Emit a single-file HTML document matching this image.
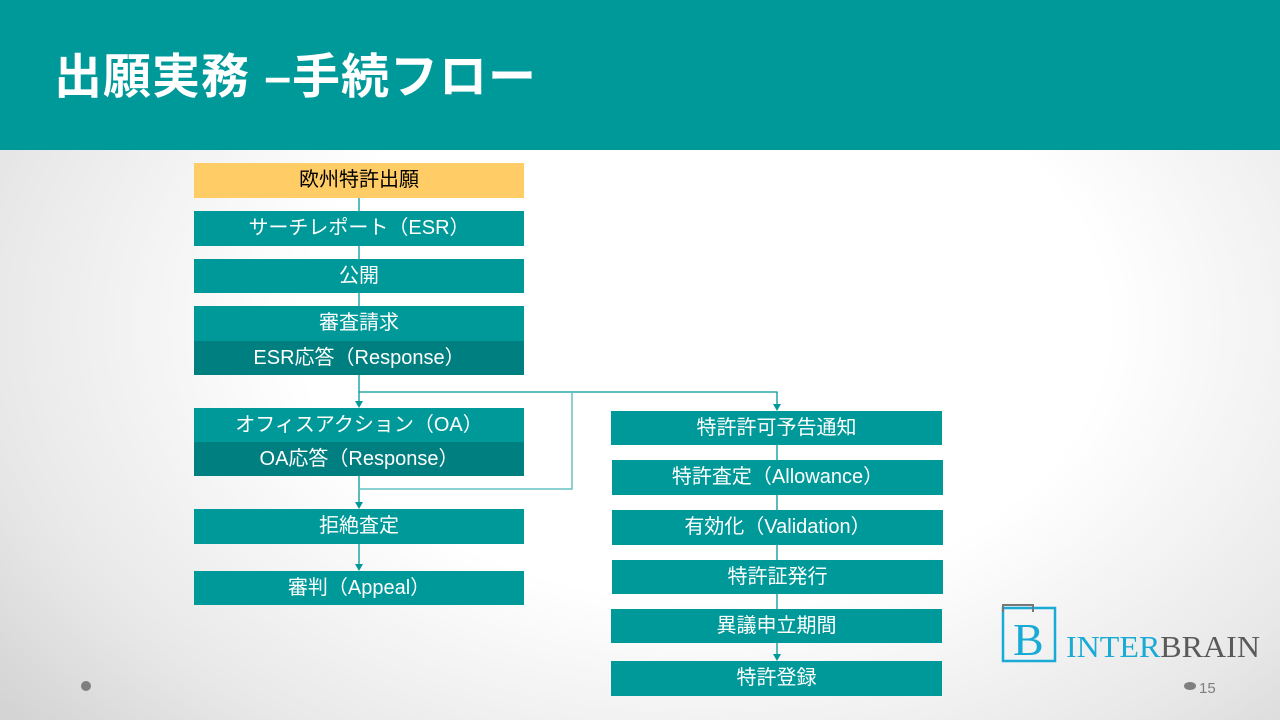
<!DOCTYPE html>
<html><head><meta charset="utf-8"><style>
body{margin:0;width:1280px;height:720px;overflow:hidden;position:relative;font-family:"Liberation Sans","Noto Sans CJK JP",sans-serif;background:radial-gradient(ellipse 70% 85% at 55% 45%,#ffffff 45%,#e8e8e8 80%,#d4d4d4 100%);}
.hd{position:absolute;left:0;top:0;width:1280px;height:150px;background:#009999;}
.t{position:absolute;left:54px;top:37px;color:#fff;font-size:48px;font-weight:bold;white-space:nowrap;letter-spacing:1px;}
.b{position:absolute;background:#009999;color:#fff;font-size:20px;display:flex;align-items:center;justify-content:center;white-space:nowrap;box-sizing:border-box;padding-bottom:6px;}
.d{background:#007F80;}
svg{position:absolute;left:0;top:0;}
</style></head><body>
<div class="hd"></div>
<div class="t">出願実務 –手続フロー</div>
<svg width="1280" height="720">
<g stroke="#009999" stroke-width="1.3" fill="none">
<line x1="359" y1="198" x2="359" y2="306"/>
<line x1="359" y1="375" x2="359" y2="401"/>
<polyline points="359,392 777,392 777,404"/>
<line x1="359" y1="476" x2="359" y2="502"/>
<line x1="359" y1="544" x2="359" y2="564"/>
<line x1="777" y1="445" x2="777" y2="654"/>
</g>
<polyline points="359,489 572,489 572,392" stroke="#66c2c2" stroke-width="1.5" fill="none"/>
<g fill="#009999">
<polygon points="355,401 363,401 359,408"/>
<polygon points="773,404 781,404 777,411"/>
<polygon points="355,502 363,502 359,509"/>
<polygon points="355,564 363,564 359,571"/>
<polygon points="773,654 781,654 777,661"/>
</g>
<circle cx="86" cy="686" r="5" fill="#7f7f7f"/>
<ellipse cx="1190" cy="686" rx="6" ry="4" fill="#7f7f7f"/>
<text x="1199" y="693" font-size="15" fill="#7f7f7f" font-family="Liberation Sans">15</text>
<rect x="1003" y="608" width="52" height="53" fill="none" stroke="#1aaad6" stroke-width="2.5"/>
<path d="M1003 612 V605 H1033 V612" fill="none" stroke="#777" stroke-width="2"/>
<text x="1013" y="655" font-size="46" fill="#1aaad6" font-family="Liberation Serif">B</text>
<text x="1066" y="657" font-size="31" fill="#1aaad6" font-family="Liberation Serif" textLength="194" lengthAdjust="spacingAndGlyphs">INTER<tspan fill="#5a5a5a">BRAIN</tspan></text>
</svg>
<div class="b" style="left:194px;top:163px;width:330px;height:35px;background:#FFCC66;color:#000">欧州特許出願</div>
<div class="b" style="left:194px;top:211px;width:330px;height:35px">サーチレポート（ESR）</div>
<div class="b" style="left:194px;top:259px;width:330px;height:34px">公開</div>
<div class="b" style="left:194px;top:306px;width:330px;height:35px">審査請求</div>
<div class="b d" style="left:194px;top:341px;width:330px;height:34px">ESR応答（Response）</div>
<div class="b" style="left:194px;top:408px;width:330px;height:34px">オフィスアクション（OA）</div>
<div class="b d" style="left:194px;top:442px;width:330px;height:34px">OA応答（Response）</div>
<div class="b" style="left:194px;top:509px;width:330px;height:35px">拒絶査定</div>
<div class="b" style="left:194px;top:571px;width:330px;height:34px">審判（Appeal）</div>
<div class="b" style="left:611px;top:411px;width:331px;height:34px">特許許可予告通知</div>
<div class="b" style="left:612px;top:460px;width:331px;height:35px">特許査定（Allowance）</div>
<div class="b" style="left:612px;top:510px;width:331px;height:35px">有効化（Validation）</div>
<div class="b" style="left:612px;top:560px;width:331px;height:34px">特許証発行</div>
<div class="b" style="left:611px;top:609px;width:331px;height:34px">異議申立期間</div>
<div class="b" style="left:611px;top:661px;width:331px;height:35px">特許登録</div>
</body></html>
